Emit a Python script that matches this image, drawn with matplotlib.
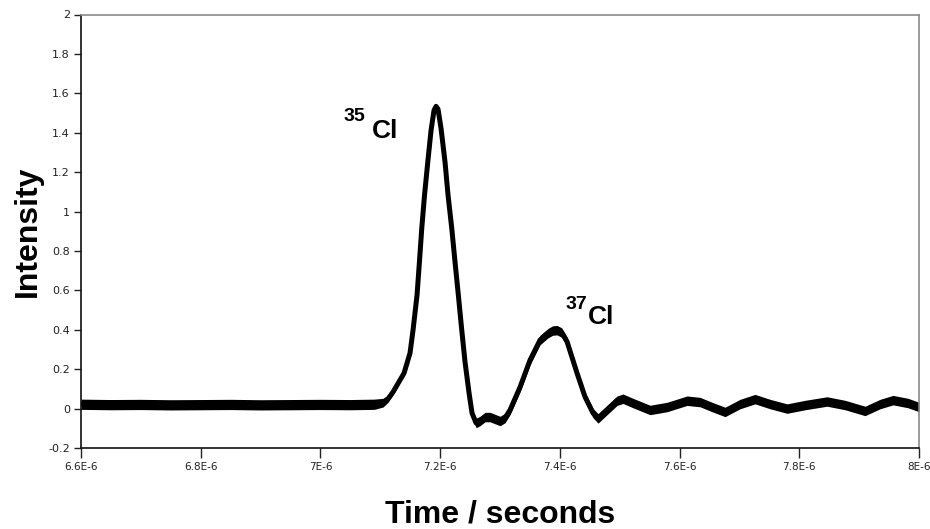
import numpy as np
import matplotlib
matplotlib.use("Agg")
import matplotlib.pyplot as plt

# ---- data (time in microseconds, intensity) ----
time_us = [6.600, 6.650, 6.700, 6.750, 6.800, 6.850, 6.900, 6.950, 7.000, 7.050, 7.090,
           7.1046, 7.1130, 7.1213, 7.1397, 7.1497, 7.1547, 7.1614, 7.1656, 7.1693, 7.1739,
           7.1793, 7.1848, 7.1898, 7.1932, 7.1965, 7.2015, 7.2082, 7.2132, 7.2194, 7.2249,
           7.2304, 7.2358, 7.2416, 7.2483, 7.2533, 7.2600, 7.2667, 7.2750, 7.2834, 7.2917,
           7.3001, 7.3084, 7.3168, 7.3335, 7.3502, 7.3669, 7.3803, 7.3880, 7.3953, 7.4030,
           7.4120, 7.4287, 7.4421, 7.4555, 7.4638, 7.4789, 7.4956, 7.5056, 7.5223, 7.5507,
           7.5791, 7.6125, 7.6343, 7.6543, 7.6760, 7.7011, 7.7261, 7.7512, 7.7796, 7.8097,
           7.8464, 7.8765, 7.9099, 7.9350, 7.9567, 7.9818, 8.000]
intensity = [0.022, 0.020, 0.021, 0.019, 0.020, 0.021, 0.019, 0.020, 0.021, 0.020, 0.022,
             0.030, 0.050, 0.084, 0.180, 0.282, 0.398, 0.576, 0.753, 0.915, 1.083,
             1.250, 1.412, 1.514, 1.534, 1.519, 1.422, 1.250, 1.083, 0.915, 0.743,
             0.576, 0.408, 0.236, 0.079, -0.023, -0.073, -0.063, -0.043, -0.043, -0.053,
             -0.063, -0.048, -0.007, 0.109, 0.246, 0.348, 0.383, 0.396, 0.398, 0.386,
             0.340, 0.180, 0.059, -0.023, -0.050, -0.007, 0.040, 0.050, 0.028, -0.007,
             0.008, 0.040, 0.033, 0.008, -0.017, 0.023, 0.048, 0.023, 0.000, 0.018,
             0.036, 0.018, -0.012, 0.023, 0.043, 0.028, 0.008]
# half-width of the noise band around the trace
noise_band = ([0.026] * 11 +
              [0.022, 0.018, 0.014, 0.009, 0.006, 0.003, 0.003, 0.003, 0.003, 0.003,
               0.003, 0.003, 0.003, 0.003, 0.003, 0.003, 0.003, 0.003, 0.003, 0.003,
               0.003, 0.003, 0.004, 0.010, 0.018] +
              [0.024] * 42)

ytick_vals = [-0.2, 0, 0.2, 0.4, 0.6, 0.8, 1.0, 1.2, 1.4, 1.6, 1.8, 2.0]
ytick_labels = ["-0.2", "0", "0.2", "0.4", "0.6", "0.8", "1", "1.2", "1.4", "1.6", "1.8", "2"]
xtick_vals_us = [6.6, 6.8, 7.0, 7.2, 7.4, 7.6, 7.8, 8.0]
xtick_labels = ["6.6E-6", "6.8E-6", "7E-6", "7.2E-6", "7.4E-6", "7.6E-6", "7.8E-6", "8E-6"]

t = np.array(time_us) * 1e-6
y = np.array(intensity)
hw = np.array(noise_band)

fig = plt.figure(figsize=(9.30, 5.29), dpi=100)
ax = fig.add_axes([81 / 930, 1 - 448 / 529, 838 / 930, (448 - 14.5) / 529])

ax.fill_between(t, y - hw, y + hw, color="black", linewidth=0)
ax.plot(t, y, color="black", linewidth=3.6, solid_joinstyle="round")

ax.set_xlim(6.6e-6, 8.0e-6)
ax.set_ylim(-0.2, 2.0)
ax.set_xticks(np.array(xtick_vals_us) * 1e-6)
ax.set_xticklabels(xtick_labels)
ax.set_yticks(ytick_vals)
ax.set_yticklabels(ytick_labels)

ax.tick_params(axis="y", direction="out", length=5, width=1, pad=3,
               labelsize=8, labelcolor="#222222", color="#222222")
ax.tick_params(axis="x", direction="out", length=7, width=1, pad=3,
               labelsize=7.5, labelcolor="#222222", color="#222222")
for s in ("left", "bottom"):
    ax.spines[s].set_color("#111111")
    ax.spines[s].set_linewidth(1.2)
for s in ("top", "right"):
    ax.spines[s].set_color("#8a8a8a")
    ax.spines[s].set_linewidth(1.2)

lab_font = dict(family="Liberation Sans", weight="bold", size=23)
ax.set_ylabel("Intensity", **lab_font)
ax.yaxis.set_label_coords(-0.046, 0.5)
ax.set_xlabel("Time / seconds", **lab_font)
ax.xaxis.set_label_coords(0.5, -0.118)

# peak labels
pk = dict(family="Liberation Sans", weight="bold", color="black")
ax.text(7.0394e-6, 1.462, "35", fontsize=14, ha="left", va="baseline", **pk)
ax.text(7.0855e-6, 1.372, "Cl", fontsize=19, ha="left", va="baseline", **pk)
ax.text(7.4087e-6, 0.506, "37", fontsize=14, ha="left", va="baseline", **pk)
ax.text(7.4470e-6, 0.430, "Cl", fontsize=19, ha="left", va="baseline", **pk)

fig.savefig("out.png", dpi=100)
